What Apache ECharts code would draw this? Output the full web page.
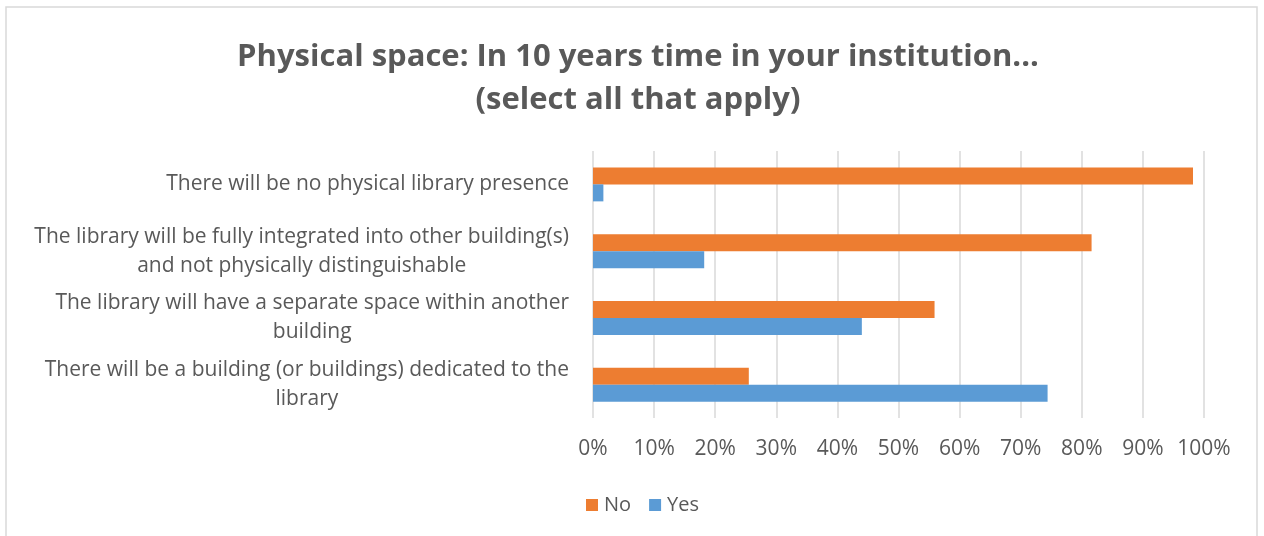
<!DOCTYPE html>
<html>
<head>
<meta charset="utf-8">
<script src="https://cdn.jsdelivr.net/npm/echarts@6/dist/echarts.min.js"></script>
<style>
  html, body { margin: 0; padding: 0; background: #fff; }
  #chart { width: 1264px; height: 536px; }
</style>
</head>
<body>
<div id="chart"></div>
<script>
var categories = [
    'There will be no physical library presence',
    'The library will be fully integrated into other building(s)\nand not physically distinguishable',
    'The library will have a separate space within another\nbuilding',
    'There will be a building (or buildings) dedicated to the\nlibrary'
];
var noValues = [98.2, 81.6, 55.9, 25.5];
var yesValues = [1.7, 18.2, 44.0, 74.4];
var tickLabels = ['0%', '10%', '20%', '30%', '40%', '50%', '60%', '70%', '80%', '90%', '100%'];

var myChart;
document.addEventListener("DOMContentLoaded", function() {
    initChart();
});

function initChart() {
    myChart = echarts.init(document.getElementById('chart'));
    var option = {
        animation: false,
        title: {
            text: 'Physical space: In 10 years time in your institution...\n(select all that apply)',
            left: 633,
            top: 31,
            textAlign: 'center',
            textStyle: {
                fontFamily: 'Open Sans',
                fontWeight: 'bold',
                fontSize: 31,
                lineHeight: 43,
                color: '#595959'
            }
        },
        graphic: [{
            type: 'rect',
            shape: { x: 6, y: 7, width: 1251, height: 540 },
            style: { fill: 'none', stroke: '#d9d9d9', lineWidth: 1.5 },
            silent: true
        }],
        legend: {
            data: ['No', 'Yes'],
            left: 581,
            top: 490,
            icon: 'rect',
            itemWidth: 12,
            itemHeight: 12,
            itemGap: 18,
            textStyle: {
                fontFamily: 'Open Sans',
                fontSize: 20,
                color: '#595959',
                padding: [0, 0, 0, 1]
            }
        },
        grid: {
            left: 593,
            right: 60,
            top: 151,
            bottom: 118,
            containLabel: false
        },
        xAxis: {
            type: 'value',
            min: 0,
            max: 100,
            interval: 10,
            axisLine: { show: false },
            axisTick: { show: false },
            splitLine: { show: true, lineStyle: { color: '#d9d9d9', width: 1.5 } },
            axisLabel: {
                margin: 21,
                fontFamily: 'Open Sans',
                fontSize: 21,
                color: '#595959',
                formatter: function (v) {
                    return tickLabels[Math.round(v / 10)];
                }
            }
        },
        yAxis: {
            type: 'category',
            inverse: true,
            data: categories,
            axisLine: { show: false },
            axisTick: { show: false },
            axisLabel: {
                margin: 24,
                fontFamily: 'Open Sans',
                fontSize: 21,
                color: '#595959',
                lineHeight: 29,
                formatter: function (v) {
                    return v.split('\n').map(function (s) { return '{c|' + s + '}'; }).join('\n');
                },
                rich: {
                    c: {
                        align: 'center',
                        fontFamily: 'Open Sans',
                        fontSize: 21,
                        color: '#595959',
                        lineHeight: 29
                    }
                }
            }
        },
        series: [{
            name: 'No',
            type: 'bar',
            data: noValues,
            barWidth: 17,
            barGap: '0%',
            itemStyle: { color: '#ED7D31' }
        }, {
            name: 'Yes',
            type: 'bar',
            data: yesValues,
            barWidth: 17,
            barGap: '0%',
            itemStyle: { color: '#5B9BD5' }
        }]
    };
    myChart.setOption(option);
}
</script>
</body>
</html>
